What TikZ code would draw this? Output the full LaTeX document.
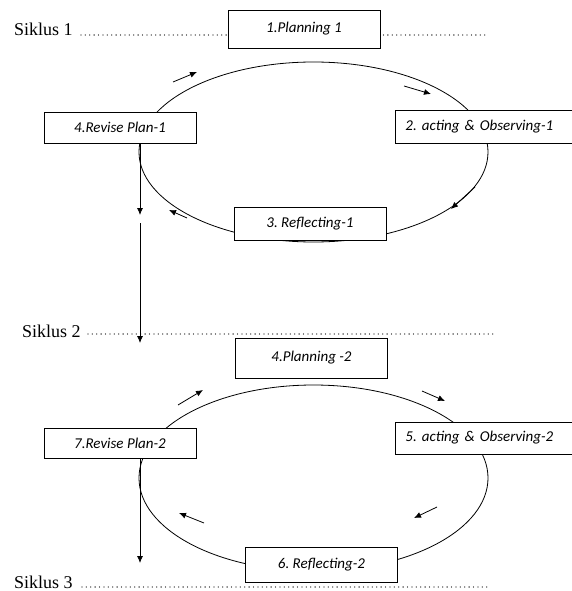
\documentclass[tikz,border=0pt]{standalone}
\usepackage{fontspec}
\setmainfont{Liberation Serif}
\newfontfamily\boxfont{Carlito}
\usetikzlibrary{arrows.meta}
\frenchspacing

\tikzset{
	stage/.style={draw, fill=white, line width=0.9pt, minimum width=152pt, minimum height=33pt, inner sep=0pt, font=\boxfont\itshape\fontsize{15}{17}\selectfont},
	actbox/.style={stage, anchor=west, text width=175pt, align=left, inner xsep=10pt},
	siklus/.style={anchor=base west, inner sep=0pt, font=\fontsize{18}{20}\selectfont},
	dotline/.style={line width=1.3pt, dash pattern=on 0pt off 4.4pt, line cap=round},
	loop/.style={line width=0.8pt},
	flow/.style={line width=0.8pt, -{Latex[length=7pt,width=6pt]}}
}

\begin{document}
\begin{tikzpicture}[x=1pt,y=1pt]
		\useasboundingbox (0,0) rectangle (571,-591);
		% siklus 1
		\node[siklus] (sik1) at (14,-36) {Siklus 1};
		\draw[loop] (313.5,-152) ellipse [x radius=174.5, y radius=90];
		\node[stage, minimum height=38pt] (plan1) at (304,-29) {1.Planning 1};
		\node[stage, minimum height=31pt] (rev1) at (120,-127.5) {4.Revise Plan-1};
		\node[actbox] (act1) at (395,-126.5) {2. acting \& Observing-1};
		\node[stage] (refl1) at (310,-223.5) {3. Reflecting-1};
		\draw[dotline] ([xshift=8pt,yshift=1pt]sik1.base east) -- ([xshift=-1pt]plan1.west |- 0,-35);
		\draw[dotline] ([xshift=3pt]plan1.east |- 0,-35) -- (488,-35);
		\draw[flow] (173,-82) -- (197,-72);
		\draw[flow] (404,-86) -- (431,-94);
		\draw[flow] (475,-187) -- (451,-209);
		\draw[flow] (187,-218) -- (169,-210);
		% siklus 2
		\node[siklus] (sik2) at (22,-337) {Siklus 2};
		\draw[dotline] ([xshift=7pt,yshift=3pt]sik2.base east) -- (496,-334);
		\draw[loop] (313.5,-478) ellipse [x radius=174.5, y radius=93];
		\node[stage, minimum height=40pt] (plan2) at (311.5,-358) {4.Planning -2};
		\node[stage, minimum height=30pt] (rev2) at (120,-443) {7.Revise Plan-2};
		\node[actbox, minimum height=32pt] (act2) at (395,-438) {5. acting \& Observing-2};
		\node[stage, minimum height=35pt] (refl2) at (321.5,-564.5) {6. Reflecting-2};
		\draw[flow] (178,-405) -- (203,-390);
		\draw[flow] (422,-391) -- (445,-401);
		\draw[flow] (437,-507) -- (414,-518);
		\draw[flow] (204,-523) -- (179,-513);
		% siklus 3
		\node[siklus] (sik3) at (14,-588) {Siklus 3};
		\draw[dotline] ([xshift=9pt,yshift=1pt]sik3.base east) -- (488,-587);
		% turun ke siklus berikutnya
		\coordinate (gap1) at (140,-223);
		\draw[flow] ([xshift=20pt]rev1.south) -- (140,-215);
		\draw[flow] (gap1) -- (140,-343);
		\draw[flow] ([xshift=20pt]rev2.south) -- (140,-563);
	\end{tikzpicture}
\end{document}
